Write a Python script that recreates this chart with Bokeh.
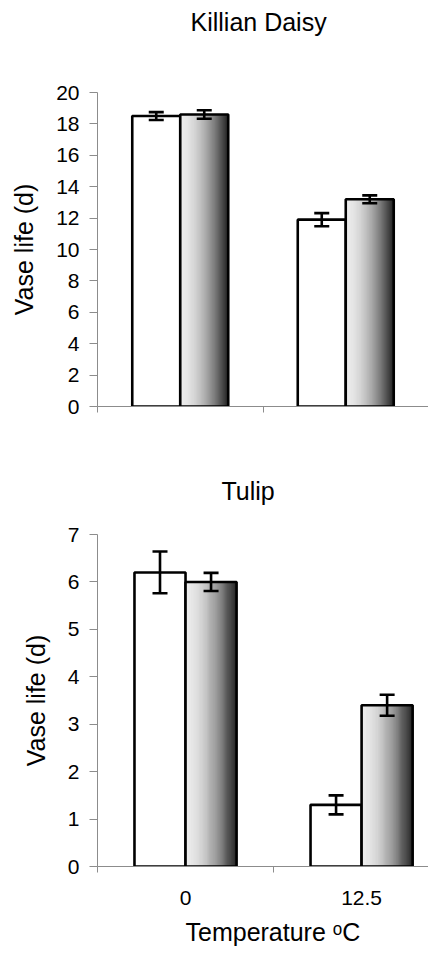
from bokeh.plotting import figure
from bokeh.layouts import column
from bokeh.models import (ColumnDataSource, Whisker, TeeHead, FixedTicker, Range1d, Title)
from bokeh.embed import file_html
from bokeh.resources import INLINE

categories = ["0", "12.5"]

daisy_s1 = [18.5, 11.9]
daisy_s1_err = [0.25, 0.42]
daisy_s2 = [18.6, 13.2]
daisy_s2_err = [0.27, 0.25]

tulip_s1 = [6.2, 1.3]
tulip_s1_err = [0.44, 0.2]
tulip_s2 = [6.0, 3.4]
tulip_s2_err = [0.19, 0.22]

daisy_ticks = [0, 2, 4, 6, 8, 10, 12, 14, 16, 18, 20]
tulip_ticks = [0, 1, 2, 3, 4, 5, 6, 7]

FONT = "Liberation Sans"
AXIS_GRAY = "#8c8c8c"
BW = 0.29  # bar width in category units


def shade(t):
    lvl = int(round(236 - 210 * t ** 1.8))
    return "#%02x%02x%02x" % (lvl, lvl, lvl)


def make_panel(title, s1, e1, s2, e2, yticks, ymax, xmax, width, height,
               border_left, border_top, border_bottom, title_offset, title_gap,
               show_labels):
    p = figure(width=width, height=height, output_backend="svg", toolbar_location=None,
               x_range=Range1d(0, xmax), y_range=Range1d(0, ymax),
               min_border_left=border_left, min_border_right=0,
               min_border_top=border_top, min_border_bottom=border_bottom)
    p.outline_line_color = None
    p.grid.grid_line_color = None
    p.background_fill_color = "white"

    centers = [i + 0.5 for i in range(len(categories))]
    x1 = [c - BW / 2 for c in centers]
    x2 = [c + BW / 2 for c in centers]

    # white bars
    p.vbar(x=x1, top=s1, width=BW, bottom=0, fill_color="white",
           line_color="black", line_width=2.6)

    # gradient bars made of thin strips
    n = 48
    lefts, rights, tops, cols = [], [], [], []
    for xc, v in zip(x2, s2):
        x0 = xc - BW / 2
        for k in range(n):
            lefts.append(x0 + BW * k / n)
            rights.append(x0 + BW * (k + 1) / n)
            tops.append(v)
            cols.append(shade((k + 0.5) / n))
    p.quad(left=lefts, right=rights, bottom=0, top=tops, fill_color=cols,
           line_color=cols, line_width=0.6)
    p.vbar(x=x2, top=s2, width=BW, bottom=0, fill_color=None,
           line_color="black", line_width=2.6)

    # error bars
    xs = x1 + x2
    vals = list(s1) + list(s2)
    errs = list(e1) + list(e2)
    src = ColumnDataSource(dict(x=xs,
                                upper=[v + e for v, e in zip(vals, errs)],
                                lower=[v - e for v, e in zip(vals, errs)]))
    w = Whisker(base="x", upper="upper", lower="lower", source=src,
                line_color="black", line_width=2.6, level="overlay",
                upper_head=TeeHead(size=15, line_width=2.6, line_color="black"),
                lower_head=TeeHead(size=15, line_width=2.6, line_color="black"))
    p.add_layout(w)

    # y axis
    p.yaxis.ticker = FixedTicker(ticks=yticks)
    p.yaxis.axis_line_color = AXIS_GRAY
    p.yaxis.major_tick_line_color = AXIS_GRAY
    p.yaxis.major_tick_out = 8
    p.yaxis.major_tick_in = 0
    p.yaxis.minor_tick_line_color = None
    p.yaxis.major_label_text_font = FONT
    p.yaxis.major_label_text_font_size = "21px"
    p.yaxis.major_label_text_color = "black"
    p.yaxis.major_label_standoff = 10
    p.yaxis.axis_label = "Vase life (d)"
    p.yaxis.axis_label_text_font = FONT
    p.yaxis.axis_label_text_font_size = "25px"
    p.yaxis.axis_label_text_font_style = "normal"
    p.yaxis.axis_label_text_color = "black"
    p.yaxis.axis_label_standoff = 15

    # x axis
    p.xaxis.axis_line_color = AXIS_GRAY
    p.xaxis.minor_tick_line_color = AXIS_GRAY
    p.xaxis.minor_tick_out = 6
    p.xaxis.minor_tick_in = 0
    p.xaxis.major_tick_line_color = None
    p.xaxis.major_tick_out = 0
    p.xaxis.major_tick_in = 0
    if show_labels:
        p.xaxis.ticker = FixedTicker(ticks=centers, minor_ticks=[0, 1, 2])
        p.xaxis.major_label_overrides = {c: lab for c, lab in zip(centers, categories)}
        p.xaxis.major_label_text_font = FONT
        p.xaxis.major_label_text_font_size = "21px"
        p.xaxis.major_label_text_color = "black"
        p.xaxis.major_label_standoff = 18
    else:
        p.xaxis.ticker = FixedTicker(ticks=[], minor_ticks=[0, 1, 2])
        p.xaxis.major_label_text_font_size = "0px"

    # empty spacer panel between frame and title
    spacer = Title(text=" ", text_font_size="2px", standoff=title_gap,
                   text_color="white")
    p.add_layout(spacer, "above")

    p.title.text = title
    p.title.align = "left"
    p.title.offset = title_offset
    p.title.standoff = 10
    p.title.text_font = FONT
    p.title.text_font_size = "25px"
    p.title.text_font_style = "normal"
    p.title.text_color = "black"
    return p


p1 = make_panel("Killian Daisy", daisy_s1, daisy_s1_err, daisy_s2, daisy_s2_err,
                daisy_ticks, 20, 2.0, 428, 444, 95, 92, 38, 93, 48, False)
p2 = make_panel("Tulip", tulip_s1, tulip_s1_err, tulip_s2, tulip_s2_err,
                tulip_ticks, 7, 1.88, 428, 510, 97, 90, 88, 124, 21, True)

xt = Title(text="Temperature \u1d52C", align="left", offset=88,
           text_font=FONT, text_font_size="25px", text_font_style="normal",
           text_color="black", standoff=16)
p2.add_layout(xt, "below")

layout = column(p1, p2, spacing=0)
open("out.html", "w").write(file_html(layout, INLINE))
